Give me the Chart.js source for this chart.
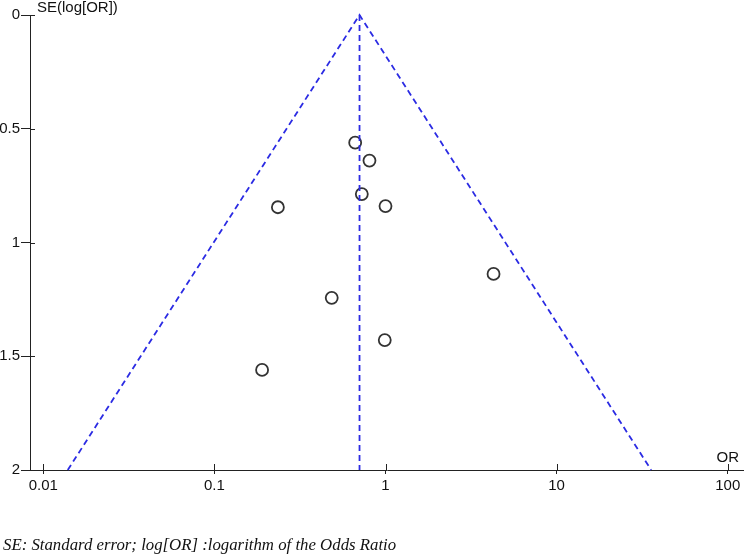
<!DOCTYPE html>
<html>
<head>
<meta charset="utf-8">
<script src="https://cdn.jsdelivr.net/npm/chart.js@4/dist/chart.umd.min.js"></script>
<style>
  body { margin: 0; background: #fff; }
  #wrap { position: relative; width: 744px; height: 557px; }
  #caption {
    position: absolute; left: 3px; top: 535px;
    font: italic 16.8px "Liberation Serif", "Times New Roman", serif;
    color: #111; white-space: nowrap;
  }
</style>
</head>
<body>
<div id="wrap">
  <canvas id="funnel" width="744" height="557"></canvas>
  <div id="caption">SE: Standard error; log[OR] :logarithm of the Odds Ratio</div>
</div>
<script>
// study points: odds ratio vs standard error of log(OR)
const orValues = [0.665, 0.806, 0.727, 1.0, 0.235, 4.28, 0.485, 0.99, 0.19];
const seValues = [0.561, 0.640, 0.787, 0.840, 0.845, 1.138, 1.243, 1.429, 1.560];

// pooled estimate and pseudo 95% limits
const pooledOR = [0.705, 0.705];
const pooledSE = [0, 2];
const funnelOR = [0.0139, 0.705, 35.7];
const funnelSE = [2, 0, 2];

const xTicks = [0.01, 0.1, 1, 10, 100];
const yTicks = [0, 0.5, 1, 1.5, 2];

const axisColor = '#222';
const lineBlue = '#2b2be3';

const toPoints = (xs, ys) => xs.map((v, i) => ({ x: v, y: ys[i] }));

// tick marks cross the axes, draw the inner half + axis titles
const extras = {
    id: 'extras',
    afterDraw(chart) {
        const { ctx, chartArea, scales } = chart;
        ctx.save();
        ctx.strokeStyle = axisColor;
        ctx.lineWidth = 1;
        ctx.beginPath();
        yTicks.forEach(v => {
            const py = Math.round(scales.y.getPixelForValue(v)) + 0.5;
            ctx.moveTo(chartArea.left, py);
            ctx.lineTo(chartArea.left + 5, py);
        });
        xTicks.forEach(v => {
            const px = Math.round(scales.x.getPixelForValue(v)) + 0.5;
            ctx.moveTo(px, chartArea.bottom);
            ctx.lineTo(px, chartArea.bottom - 6);
        });
        ctx.stroke();

        ctx.fillStyle = '#111';
        ctx.font = '15px "Liberation Sans", Arial, sans-serif';
        ctx.textBaseline = 'middle';
        ctx.textAlign = 'left';
        ctx.fillText('SE(log[OR])', 37, 8);
        ctx.textAlign = 'right';
        ctx.fillText('OR', 739, 458);
        ctx.restore();
    }
};

new Chart(document.getElementById('funnel'), {
    type: 'scatter',
    data: {
        datasets: [
            {
                label: 'Funnel',
                data: toPoints(funnelOR, funnelSE),
                showLine: true,
                borderColor: lineBlue,
                borderWidth: 1.8,
                borderDash: [6, 4],
                pointRadius: 0,
                clip: false
            },
            {
                label: 'Pooled',
                data: toPoints(pooledOR, pooledSE),
                showLine: true,
                borderColor: lineBlue,
                borderWidth: 1.8,
                borderDash: [6, 4],
                pointRadius: 0,
                clip: false
            },
            {
                label: 'Studies',
                data: toPoints(orValues, seValues),
                pointRadius: 6,
                pointBorderWidth: 1.8,
                pointBorderColor: '#333',
                pointBackgroundColor: 'rgba(0,0,0,0)',
                clip: false
            }
        ]
    },
    options: {
        responsive: false,
        animation: false,
        devicePixelRatio: 1,
        layout: { autoPadding: false, padding: { top: 15, right: 0, left: 0, bottom: 0 } },
        plugins: { legend: { display: false }, tooltip: { enabled: false } },
        scales: {
            x: {
                type: 'logarithmic',
                min: 0.008363,
                max: 124.5,
                afterFit(s) {
                    s.height = 87;
                    s.paddingLeft = 0;
                    s.paddingRight = 0;
                },
                afterBuildTicks(s) { s.ticks = xTicks.map(v => ({ value: v })); },
                border: { display: true, color: axisColor, width: 1 },
                grid: { drawOnChartArea: false, drawTicks: true, tickLength: 4, color: axisColor },
                ticks: {
                    autoSkip: false,
                    maxRotation: 0,
                    padding: 3,
                    color: '#111',
                    font: { family: '"Liberation Sans", Arial, sans-serif', size: 15 },
                    callback: v => String(v)
                }
            },
            y: {
                type: 'linear',
                reverse: true,
                min: 0,
                max: 2,
                afterFit(s) {
                    s.width = 30;
                    s.paddingTop = 0;
                    s.paddingBottom = 0;
                },
                afterBuildTicks(s) { s.ticks = yTicks.map(v => ({ value: v })); },
                border: { display: true, color: axisColor, width: 1 },
                grid: { drawOnChartArea: false, drawTicks: true, tickLength: 9, color: axisColor },
                ticks: {
                    padding: 1,
                    color: '#111',
                    font: { family: '"Liberation Sans", Arial, sans-serif', size: 15 },
                    callback: v => String(v)
                }
            }
        }
    },
    plugins: [extras]
});
</script>
</body>
</html>
